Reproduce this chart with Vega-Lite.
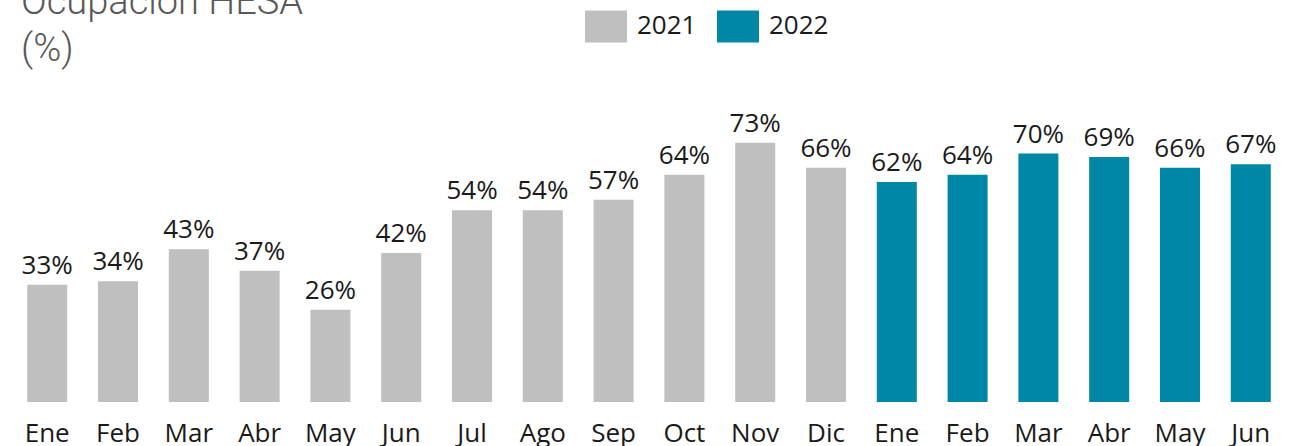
{
  "$schema": "https://vega.github.io/schema/vega-lite/v6.json",
  "autosize": {"type": "none"},
  "padding": {"left": 12, "top": 47, "right": 16, "bottom": 44},
  "width": 1274,
  "height": 355,
  "title": {
    "text": ["Ocupación HESA", "(%)"],
    "anchor": "start",
    "frame": "group",
    "orient": "top",
    "font": "Roboto",
    "fontWeight": 300,
    "fontSize": 38,
    "color": "#595959",
    "lineHeight": 47,
    "baseline": "top",
    "offset": 0,
    "dx": 9,
    "dy": 64
  },
  "config": {
    "view": {"stroke": null},
    "font": "Open Sans"
  },
  "data": {
    "values": [
      {"key": "Ene-2021", "anio": "2021", "valor": 33},
      {"key": "Feb-2021", "anio": "2021", "valor": 34},
      {"key": "Mar-2021", "anio": "2021", "valor": 43},
      {"key": "Abr-2021", "anio": "2021", "valor": 37},
      {"key": "May-2021", "anio": "2021", "valor": 26},
      {"key": "Jun-2021", "anio": "2021", "valor": 42},
      {"key": "Jul-2021", "anio": "2021", "valor": 54},
      {"key": "Ago-2021", "anio": "2021", "valor": 54},
      {"key": "Sep-2021", "anio": "2021", "valor": 57},
      {"key": "Oct-2021", "anio": "2021", "valor": 64},
      {"key": "Nov-2021", "anio": "2021", "valor": 73},
      {"key": "Dic-2021", "anio": "2021", "valor": 66},
      {"key": "Ene-2022", "anio": "2022", "valor": 62},
      {"key": "Feb-2022", "anio": "2022", "valor": 64},
      {"key": "Mar-2022", "anio": "2022", "valor": 70},
      {"key": "Abr-2022", "anio": "2022", "valor": 69},
      {"key": "May-2022", "anio": "2022", "valor": 66},
      {"key": "Jun-2022", "anio": "2022", "valor": 67}
    ]
  },
  "encoding": {
    "x": {
      "field": "key",
      "type": "nominal",
      "sort": null,
      "scale": {"paddingInner": 0.435, "paddingOuter": 0.215},
      "axis": {
        "title": null,
        "labelExpr": "split(datum.label, '-')[0]",
        "labelAngle": 0,
        "labelFont": "Open Sans",
        "labelFontSize": 26,
        "labelColor": "#1a1a1a",
        "labelBaseline": "alphabetic",
        "labelPadding": 39,
        "ticks": false,
        "domain": false,
        "grid": false
      }
    },
    "y": {
      "field": "valor",
      "type": "quantitative",
      "scale": {"domain": [0, 100], "nice": false},
      "axis": null
    }
  },
  "layer": [
    {
      "mark": {"type": "bar"},
      "encoding": {
        "color": {
          "field": "anio",
          "type": "nominal",
          "scale": {"domain": ["2021", "2022"], "range": ["#bfbfbf", "#0086a6"]},
          "legend": {
            "title": null,
            "orient": "none",
            "direction": "horizontal",
            "legendX": 573,
            "legendY": -42,
            "padding": 0,
            "symbolType": "M-1,-0.762H1V0.762H-1Z",
            "symbolSize": 1764,
            "symbolStrokeWidth": 0,
            "symbolOpacity": 1,
            "labelFont": "Open Sans",
            "labelFontSize": 26,
            "labelColor": "#1a1a1a",
            "labelOffset": 10,
            "columnPadding": 20
          }
        }
      }
    },
    {
      "transform": [{"calculate": "datum.valor + '%'", "as": "lbl"}],
      "mark": {
        "type": "text",
        "baseline": "alphabetic",
        "dy": -11,
        "font": "Open Sans",
        "fontSize": 26,
        "color": "#1a1a1a"
      },
      "encoding": {
        "text": {"field": "lbl", "type": "nominal"}
      }
    }
  ]
}
